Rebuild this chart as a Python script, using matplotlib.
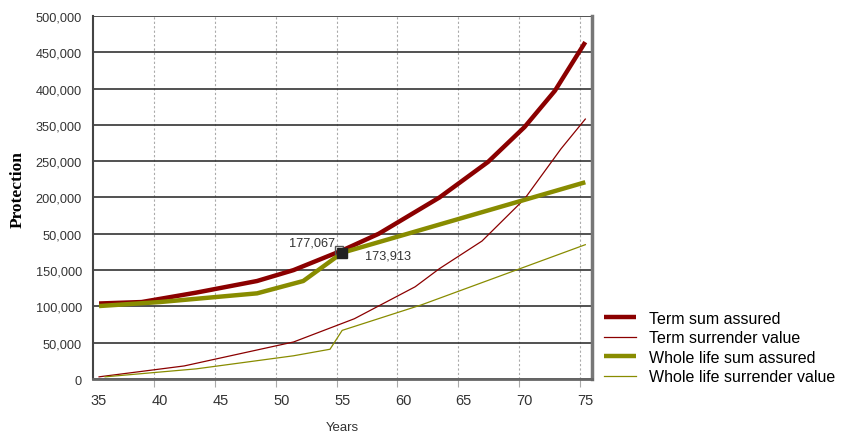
import numpy as np
import matplotlib.pyplot as plt

# data
term_sa_years = [35, 38.5, 43, 48, 51, 55, 58, 63, 67, 70, 72.5, 75]
term_sa = [104000, 106000, 119000, 135000, 150000, 177067, 200000, 250000, 299000, 347000, 397000, 464000]

term_sv_years = [35, 42, 51, 56, 61, 63, 66.5, 70, 73, 75]
term_sv = [3000, 18000, 51000, 83000, 127000, 152000, 190000, 248000, 317000, 358000]

wl_sa_years = [35, 40, 48, 51.8, 55, 75]
wl_sa = [100500, 106000, 118000, 135000, 173913, 271000]

wl_sv_years = [35.5, 43, 51, 54, 55, 61.5, 75]
wl_sv = [3000, 14000, 32000, 41000, 67000, 102000, 185000]

x_ticks = [35, 40, 45, 50, 55, 60, 65, 70, 75]
y_ticks = [0, 50000, 100000, 150000, 200000, 250000, 300000, 350000, 400000, 450000, 500000]
y_labels = ["0", "50,000", "100,000", "150,000", "50,000", "200,000", "250,000",
            "350,000", "400,000", "450,000", "500,000"]

red = '#8b0000'
olive = '#888c00'

fig = plt.figure(figsize=(8.53, 4.35), dpi=100)
ax = fig.add_axes([0.109, 0.1264, 0.585, 0.8346])

ax.plot(term_sa_years, term_sa, color=red, lw=3.2, label='Term sum assured', solid_capstyle='butt')
ax.plot(term_sv_years, term_sv, color=red, lw=0.9, label='Term surrender value')
ax.plot(wl_sa_years, wl_sa, color=olive, lw=3.2, label='Whole life sum assured', solid_capstyle='butt')
ax.plot(wl_sv_years, wl_sv, color=olive, lw=0.9, label='Whole life surrender value')

# highlighted points at age 55
ax.plot([54.7], [term_sa[5]], marker='s', ms=6, mfc='none', mec='#555555', mew=1, zorder=5)
ax.plot([55], [wl_sa[4]], marker='s', ms=7, color='#222222', zorder=6)
ax.text(54.4, 188000, '{:,}'.format(term_sa[5]), ha='right', va='center', fontsize=9.2,
        color='#333333', family='Liberation Sans')
ax.text(56.9, 169500, '{:,}'.format(wl_sa[4]), ha='left', va='center', fontsize=9.2,
        color='#333333', family='Liberation Sans')

ax.set_xlim(34.5, 75.55)
ax.set_ylim(0, 500000)

ax.set_xticks(x_ticks)
ax.set_xticklabels([str(v) for v in x_ticks], fontsize=10.5, color='#333333', family='Liberation Sans')
ax.tick_params(axis='x', which='major', length=0, pad=10)
ax.set_xticks([v - 0.45 for v in x_ticks[1:]], minor=True)
ax.tick_params(axis='x', which='minor', length=6, color='#aaaaaa', width=0.8)
ax.grid(axis='x', which='minor', color='#aaaaaa', ls=(0, (2, 2)), lw=0.8)

ax.set_yticks(y_ticks)
ax.set_yticklabels(y_labels, fontsize=9.2, color='#333333', family='Liberation Sans')
ax.tick_params(axis='y', length=0, pad=8)
ax.grid(axis='y', which='major', color='#333333', lw=1.2)
ax.set_axisbelow(True)

ax.spines['top'].set_visible(False)
ax.spines['left'].set_color('#444444')
ax.spines['left'].set_linewidth(1.5)
ax.spines['bottom'].set_color('#666666')
ax.spines['bottom'].set_linewidth(2)
ax.spines['right'].set_color('#777777')
ax.spines['right'].set_linewidth(2.5)

ax.set_xlabel('Years', fontsize=9.5, color='#333333', family='Liberation Sans', labelpad=10)
ax.set_ylabel('Protection', fontsize=12.5, fontweight='bold', family='Liberation Serif')
ax.yaxis.set_label_coords(-0.135, 0.525)

fig.legend(loc='upper left', bbox_to_anchor=(0.708, 0.283), frameon=False,
           prop={'family': 'Liberation Sans', 'size': 11.5}, handlelength=2.0,
           handletextpad=0.8, labelspacing=0.28, borderaxespad=0, borderpad=0)

plt.savefig('out.png', dpi=100)
